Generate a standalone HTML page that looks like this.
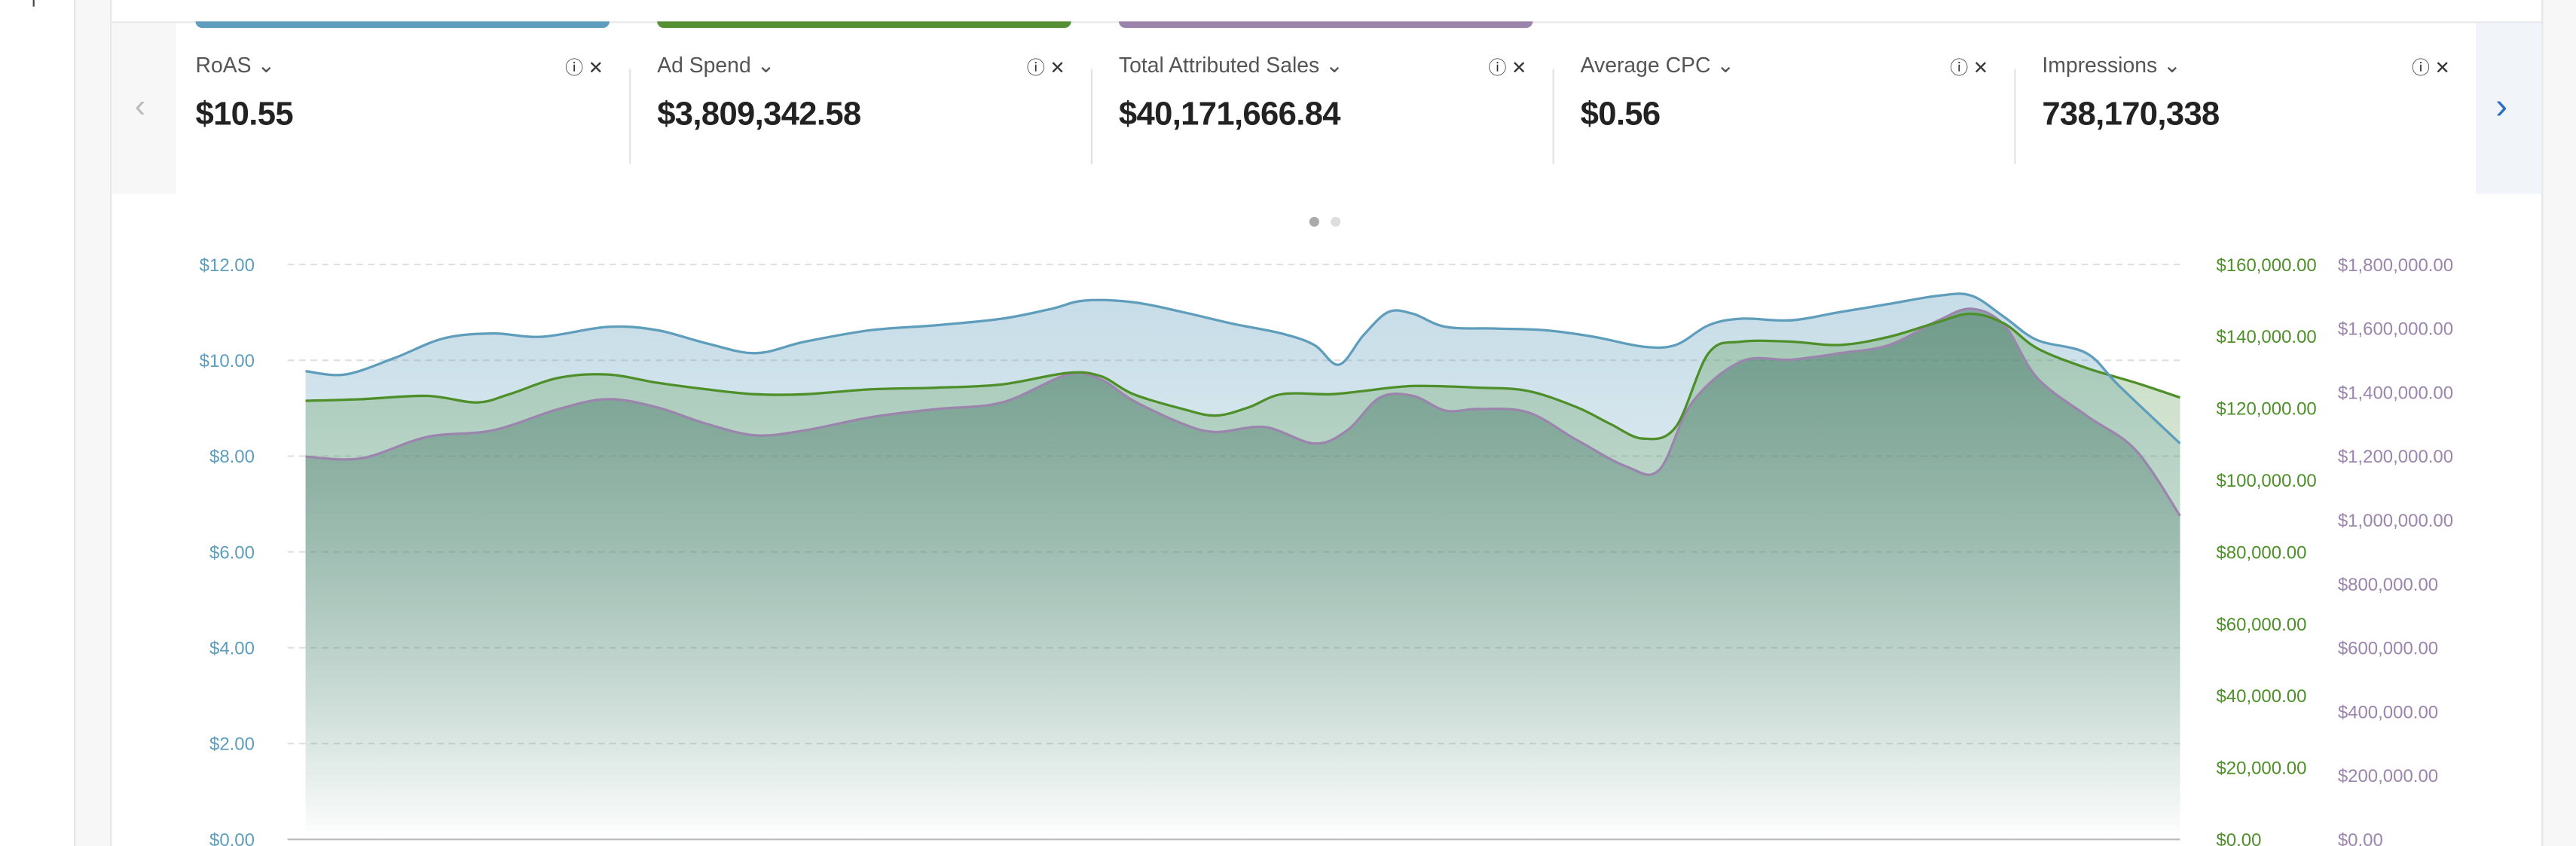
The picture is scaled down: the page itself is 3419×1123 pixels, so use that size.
<!DOCTYPE html>
<html><head><meta charset="utf-8"><style>
html,body{margin:0;padding:0;background:#fff;overflow:hidden}
#wrap{position:absolute;left:0;top:0;width:1568px;height:515px;transform:scale(2.18048);transform-origin:0 0;font-family:"Liberation Sans",sans-serif}
.abs{position:absolute}
.title{font-size:13px;color:#555;top:32px}
.val{font-size:20px;font-weight:bold;color:#222;top:59px;letter-spacing:-0.3px}
.ic{font-size:11px;color:#333;top:33px}
.div{width:1px;background:#e2e2e2;top:42px;height:58px}
</style></head><body><div id="wrap">
<div class="abs" style="left:45px;top:0;width:1px;height:515px;background:#e3e3e3"></div>
<div class="abs" style="left:46px;top:0;width:21px;height:515px;background:#f7f7f7"></div>
<div class="abs" style="left:67px;top:0;width:1px;height:515px;background:#e6e6e6"></div>
<div class="abs" style="left:1547px;top:0;width:21px;height:515px;background:#f7f7f7;border-left:1px solid #e6e6e6"></div>
<div class="abs" style="left:20px;top:0;width:1px;height:4px;background:#444"></div>
<div class="abs" style="left:68px;top:13px;width:1479px;height:1px;background:#e8e8e8"></div>
<div class="abs" style="left:68px;top:14px;width:39px;height:104px;background:#f7f7f7"></div>
<div class="abs" style="left:1507px;top:14px;width:40px;height:104px;background:#f1f5fa"></div>
<div class="abs" style="left:82px;top:54px;font-size:20px;color:#bbb">&#x2039;</div>
<div class="abs" style="left:1519px;top:52px;font-size:22px;color:#2a6fc9">&#x203A;</div>
<div class="abs" style="left:119px;top:13px;width:252px;height:4px;background:#5e9dbb;border-radius:0 0 4px 4px"></div>
<div class="abs" style="left:400px;top:13px;width:252px;height:4px;background:#568f34;border-radius:0 0 4px 4px"></div>
<div class="abs" style="left:681px;top:13px;width:252px;height:4px;background:#9b85ad;border-radius:0 0 4px 4px"></div>
<div class="abs title" style="left:119px">RoAS ⌄</div><div class="abs val" style="left:119px">$10.55</div>
<div class="abs title" style="left:400px">Ad Spend ⌄</div><div class="abs val" style="left:400px">$3,809,342.58</div>
<div class="abs title" style="left:681px">Total Attributed Sales ⌄</div><div class="abs val" style="left:681px">$40,171,666.84</div>
<div class="abs title" style="left:962px">Average CPC ⌄</div><div class="abs val" style="left:962px">$0.56</div>
<div class="abs title" style="left:1243px">Impressions ⌄</div><div class="abs val" style="left:1243px">738,170,338</div>
<div class="abs ic" style="left:344px">ⓘ ✕</div><div class="abs ic" style="left:625px">ⓘ ✕</div><div class="abs ic" style="left:906px">ⓘ ✕</div><div class="abs ic" style="left:1187px">ⓘ ✕</div><div class="abs ic" style="left:1468px">ⓘ ✕</div>
<div class="abs div" style="left:383px"></div><div class="abs div" style="left:664px"></div><div class="abs div" style="left:945px"></div><div class="abs div" style="left:1226px"></div>
<div class="abs" style="left:797px;top:132px;width:6px;height:6px;border-radius:3px;background:#aaa"></div>
<div class="abs" style="left:810px;top:132px;width:6px;height:6px;border-radius:3px;background:#ddd"></div>
<svg class="abs" style="left:0;top:0" width="1568" height="515" id="svg">
<defs>
<linearGradient id="gb" gradientUnits="userSpaceOnUse" x1="0" y1="170" x2="0" y2="511"><stop offset="0" stop-color="#5e9dbb" stop-opacity=".36"/><stop offset="1" stop-color="#5e9dbb" stop-opacity="0"/></linearGradient>
<linearGradient id="gg" gradientUnits="userSpaceOnUse" x1="0" y1="190" x2="0" y2="511"><stop offset="0" stop-color="#5a9a50" stop-opacity=".35"/><stop offset="1" stop-color="#5a9a50" stop-opacity="0"/></linearGradient>
<linearGradient id="gp" gradientUnits="userSpaceOnUse" x1="0" y1="200" x2="0" y2="511"><stop offset="0" stop-color="#4a7a6c" stop-opacity=".55"/><stop offset="1" stop-color="#4a7a6c" stop-opacity="0"/></linearGradient>
</defs>
<g id="grid" stroke="#e0e0e0" stroke-dasharray="4,3"></g>
<g id="areas"></g>
<line x1="175" y1="511" x2="1327" y2="511" stroke="#bbb"/>
<g id="labels" font-size="11"></g>
</svg>
</div>
<script>
var B=[[186,226],[210,228],[240,218],[270,206],[300,203],[330,205],[370,199],[400,201],[430,209],[460,215],[490,208],[530,201],[570,198],[610,194],[640,188],[660,183],[690,184],[720,190],[750,197],[780,203],[800,210],[815,222],[830,204],[845,190],[860,191],[880,199],[910,200],[940,201],[970,205],[1000,211],[1020,210],[1040,198],[1060,194],[1090,195],[1120,190],[1150,185],[1180,180],[1200,180],[1220,193],[1240,207],[1270,215],[1290,235],[1327,270]];
var G=[[186,244],[220,243],[260,241],[290,245],[310,240],[340,230],[370,228],[400,233],[430,237],[460,240],[490,240],[530,237],[570,236],[610,234],[650,227],[670,229],[690,240],[720,249],[740,253],[760,248],[780,240],[810,240],[830,238],[860,235],[900,236],[930,238],[960,248],[980,258],[1000,267],[1020,260],[1040,215],[1060,208],[1090,208],[1120,210],[1150,205],[1180,196],[1200,191],[1220,197],[1240,212],[1270,224],[1300,233],[1327,242]];
var P=[[186,278],[220,279],[260,266],[300,262],[340,249],[370,243],[400,248],[430,258],[460,265],[490,262],[530,254],[570,249],[610,245],[650,228],[670,231],[690,244],[720,258],[740,263],[770,260],[800,270],[820,262],[840,242],[860,241],[880,250],[900,249],[930,251],[960,268],[990,284],[1010,286],[1030,245],[1060,220],[1090,219],[1120,215],[1150,210],[1180,195],[1200,188],[1220,198],[1240,230],[1270,253],[1300,274],[1327,314]];
function sm(p){var d="M"+p[0][0]+","+p[0][1];for(var i=0;i<p.length-1;i++){var p0=p[i-1]||p[i],p1=p[i],p2=p[i+1],p3=p[i+2]||p2;d+=" C"+(p1[0]+(p2[0]-p0[0])/6)+","+(p1[1]+(p2[1]-p0[1])/6)+" "+(p2[0]-(p3[0]-p1[0])/6)+","+(p2[1]-(p3[1]-p1[1])/6)+" "+p2[0]+","+p2[1];}return d;}
var s="";
[[B,"gb","#5e9dbb"],[G,"gg","#4e8f2a"],[P,"gp","#9b85ad"]].forEach(function(a){var d=sm(a[0]);s+='<path d="'+d+' L1327,511 L186,511Z" fill="url(#'+a[1]+')"/>';});
[[P,"#9b85ad"],[G,"#4e8f2a"],[B,"#5e9dbb"]].forEach(function(a){s+='<path d="'+sm(a[0])+'" fill="none" stroke="'+a[1]+'" stroke-width="1.5"/>';});
document.getElementById("areas").innerHTML=s;
var g="",l="";
for(var i=0;i<=6;i++){var y=161+i*58.33;if(i<6)g+='<line x1="175" y1="'+y+'" x2="1327" y2="'+y+'"/>';l+='<text x="155" y="'+(y+4)+'" text-anchor="end" fill="#5e9dbb">$'+(12-2*i)+'.00</text>';}
for(var i=0;i<=8;i++){var y=161+i*43.75,v=160-20*i;l+='<text x="1349" y="'+(y+4)+'" fill="#4e8f2a">$'+(v?v+',000.00':'0.00')+'</text>';}
for(var i=0;i<=9;i++){var y=161+i*38.89,v=1800-200*i;var t=v>=1000?('$'+Math.floor(v/1000)+','+String(v%1000).padStart(3,'0')+',000.00'):(v?'$'+v+',000.00':'$0.00');l+='<text x="1423" y="'+(y+4)+'" fill="#9b85ad">'+t+'</text>';}
document.getElementById("grid").innerHTML=g;document.getElementById("labels").innerHTML=l;
</script>
</body></html>
